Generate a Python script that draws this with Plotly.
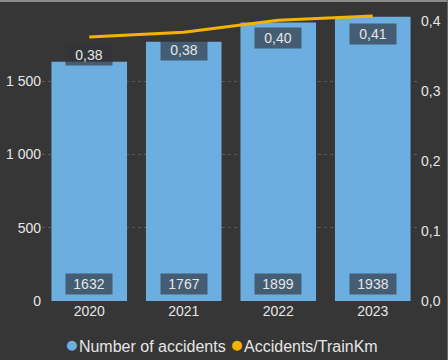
import plotly.graph_objects as go

years = ["2020", "2021", "2022", "2023"]
accidents = [1632, 1767, 1899, 1938]
rate = [0.377, 0.384, 0.401, 0.407]
rate_labels = ["0,38", "0,38", "0,40", "0,41"]
acc_labels = ["1632", "1767", "1899", "1938"]

BG = "#363636"
BAR = "#6CAEE0"
LINE = "#F5B301"
TXT = "#E6E6E6"
BOX = "rgba(48,52,58,0.66)"
FONT = "Liberation Sans"

fig = go.Figure()
fig.add_trace(go.Bar(x=years, y=accidents, marker=dict(color=BAR, line=dict(width=0)),
                     name="Number of accidents", showlegend=False, yaxis="y", hoverinfo="skip"))
fig.add_trace(go.Scatter(x=years, y=rate, mode="lines", line=dict(color=LINE, width=3),
                         name="Accidents/TrainKm", showlegend=False, yaxis="y2", hoverinfo="skip"))

ann = []
for i, (v, t) in enumerate(zip(rate, rate_labels)):
    ann.append(dict(x=i, y=v, xref="x", yref="y2", text=t, showarrow=False, yshift=-18,
                    font=dict(color=TXT, size=14, family=FONT), bgcolor=BOX, borderpad=3,
                    width=40, height=14))
for i, t in enumerate(acc_labels):
    ann.append(dict(x=i, y=0, xref="x", yref="y", text=t, showarrow=False, yshift=17,
                    font=dict(color=TXT, size=14, family=FONT), bgcolor=BOX, borderpad=3,
                    width=40, height=14))
# legend
ann.append(dict(x=0.475, y=-0.150, xref="paper", yref="paper", showarrow=False,
                xanchor="center", yanchor="middle",
                text=(f'<span style="color:{BAR};font-size:23px">●</span>Number of accidents '
                      f'<span style="color:{LINE};font-size:23px">●</span>Accidents/TrainKm'),
                font=dict(color=TXT, size=16, family=FONT)))

fig.update_layout(
    width=448, height=360,
    margin=dict(l=42, r=28, t=14, b=59),
    paper_bgcolor=BG, plot_bgcolor=BG,
    separators=", ",
    bargap=0.2,
    showlegend=False,
    font=dict(family=FONT, color=TXT, size=13),
    xaxis=dict(type="category", range=[-0.5, 3.5], showgrid=False, zeroline=False,
               showline=False, ticks="", tickfont=dict(size=14, color=TXT), automargin=False),
    yaxis=dict(range=[0, 1957], tickvals=[0, 500, 1000, 1500], tickformat=",d",
               showgrid=True, gridcolor="#5a5a5a", griddash="dot", gridwidth=1,
               zeroline=False, showline=False, tickfont=dict(size=14, color=TXT),
               automargin=False),
    yaxis2=dict(range=[0, 0.41], overlaying="y", side="right", tickvals=[0, 0.1, 0.2, 0.3, 0.4],
                tickformat=".1f", showgrid=False, zeroline=False, showline=False,
                tickfont=dict(size=14, color=TXT), automargin=False),
    annotations=ann,
    shapes=[
        dict(type="line", xref="paper", yref="paper", x0=-0.2, x1=1.2, y0=1.045, y1=1.045,
             line=dict(color="#8a8a8a", width=2)),
        dict(type="line", xref="paper", yref="paper", x0=1.0726, x1=1.0726, y0=-0.3, y1=1.1,
             line=dict(color="#6a6a6a", width=1)),
    ],
)

fig.write_html("out.html")
